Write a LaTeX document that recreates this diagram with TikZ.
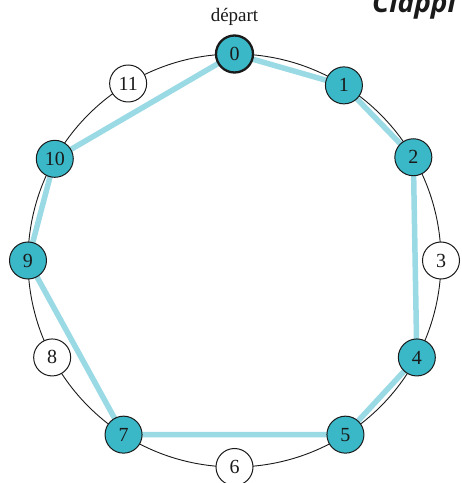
\documentclass[tikz,border=0pt]{standalone}
\usepackage{fontspec}
\setmainfont{Liberation Serif}
\newfontfamily\titlefont{Open Sans}
\definecolor{teal1}{HTML}{3AB8C8}
\definecolor{pale}{HTML}{9ADAE5}
\definecolor{ink}{HTML}{1A1A1A}
\tikzset{
  pnode/.style={circle, draw=ink, line width=1pt, minimum size=37pt, inner sep=0pt,
    font=\fontsize{20}{20}\selectfont, text=ink},
  on/.style={pnode, fill=teal1},
  off/.style={pnode, fill=white},
  startnode/.style={on, line width=2.3pt},
  route/.style={draw=pale, line width=5.5pt, line join=round, line cap=round},
  ring/.style={draw=ink, line width=0.9pt}
}
\begin{document}
\begin{tikzpicture}
\useasboundingbox (0,0) rectangle (462pt,483pt);
\clip (0,0) rectangle (462pt,483pt);
\fill[white] (0,0) rectangle (462pt,483pt);
\coordinate (c) at (234.5pt,222.5pt);
\draw[ring] (c) circle[radius=206.5pt];
\begin{scope}[shift={(c)}]
  \coordinate (p0) at (90:206.5pt);
  \coordinate (p1) at (58:206.5pt);
  \coordinate (p2) at (30:206.5pt);
  \coordinate (p3) at (0:206.5pt);
  \coordinate (p4) at (-28:206.5pt);
  \coordinate (p5) at (-57.5:206.5pt);
  \coordinate (p6) at (-90:206.5pt);
  \coordinate (p7) at (237.5:206.5pt);
  \coordinate (p8) at (208:206.5pt);
  \coordinate (p9) at (180:206.5pt);
  \coordinate (p10) at (150.5:206.5pt);
  \coordinate (p11) at (121:206.5pt);
\end{scope}
\draw[route] (p0) -- (p1) -- (p2) -- (p4) -- (p5) -- (p7) -- (p9) -- (p10) -- cycle;
\node[startnode] (n0) at (p0) {0};
\node[on] (n1) at (p1) {1};
\node[on] (n2) at (p2) {2};
\node[off] (n3) at (p3) {3};
\node[on] (n4) at (p4) {4};
\node[on] (n5) at (p5) {5};
\node[off] (n6) at (p6) {6};
\node[on] (n7) at (p7) {7};
\node[off] (n8) at (p8) {8};
\node[on] (n9) at (p9) {9};
\node[on] (n10) at (p10) {10};
\node[off] (n11) at (p11) {11};
\node[font=\fontsize{19}{19}\selectfont, text=ink, anchor=base] (dep) at (234.5pt,461pt) {départ};
\node[font=\titlefont\bfseries\itshape\fontsize{28}{28}\selectfont, text=ink, anchor=base west, inner sep=0pt] (title) at (372pt,470pt) {Clappi};
\end{tikzpicture}
\end{document}
